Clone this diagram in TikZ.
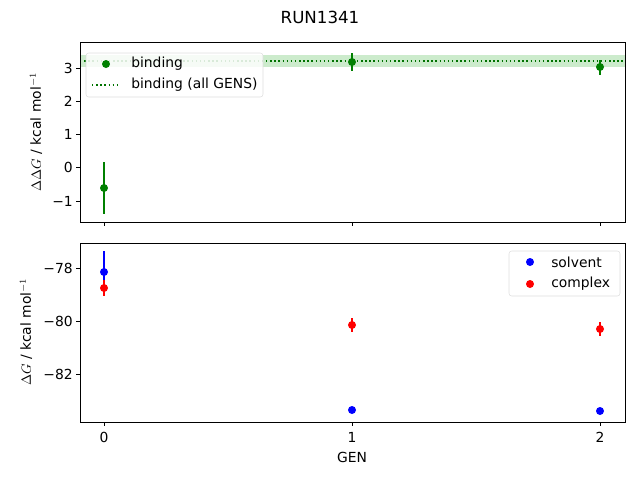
\documentclass[tikz,border=0pt]{standalone}
\usepackage{fontspec}
\setmainfont{DejaVu Sans}
\begin{document}
\begin{tikzpicture}[x=0.75pt,y=-0.75pt,
  lbl/.style={font=\fontsize{10.4}{12}\selectfont,inner sep=0pt},
  pt/.style={circle,inner sep=0pt,minimum size=6pt},
  eb/.style={line width=1.1pt},
  tk/.style={line width=0.6pt}]
\useasboundingbox (0,0) rectangle (640,480);
\node[font=\fontsize{12.5}{14}\selectfont] (title) at (320,17) {RUN1341};
% top axes
\fill[green!60!black,opacity=0.2] (80,55) rectangle (625,67);
\draw[green!45!black,dotted,line width=1.1pt] (80,61) -- (625,61);
\draw[eb,green!50!black] (104,162) -- (104,214);
\draw[eb,green!50!black] (352,53) -- (352,71);
\draw[eb,green!50!black] (600,60) -- (600,75);
\node[pt,fill=green!50!black] (b0) at (104,188) {};
\node[pt,fill=green!50!black] (b1) at (352,62) {};
\node[pt,fill=green!50!black] (b2) at (600,67) {};
\draw[line width=0.6pt] (80,42) rectangle (625,222);
\foreach \v/\y in {3/68,2/101,1/134,0/167,-1/201}{
  \draw[tk] (80,\y) -- (76,\y);
  \node[lbl,anchor=east] at (73,\y) {\ifnum\v<0 −1\else\v\fi};}
\foreach \x in {104,352,600}{\draw[tk] (\x,222) -- (\x,226);}
\node[lbl,rotate=90] (yl1) at (36,132) {$\Delta\Delta G$ / kcal mol$^{-1}$};
% legend top
\draw[gray!30,fill=white,opacity=0.85,rounded corners=2pt] (86,53) rectangle (263,97);
\node[pt,fill=green!50!black] (lb) at (106,64) {};
\node[lbl,anchor=west] at (131,64) {binding};
\draw[green!45!black,dotted,line width=1.1pt] (92,85) -- (120,85);
\node[lbl,anchor=west] at (131,85) {binding (all GENS)};
% bottom axes
\draw[eb,blue] (104,251) -- (104,292);
\draw[eb,red] (104,280) -- (104,296);
\draw[eb,red] (352,318) -- (352,332);
\draw[eb,red] (600,322) -- (600,336);
\node[pt,fill=blue] (s0) at (104,272) {};
\node[pt,fill=blue] (s1) at (352,410) {};
\node[pt,fill=blue] (s2) at (600,411) {};
\node[pt,fill=red] (c0) at (104,288) {};
\node[pt,fill=red] (c1) at (352,325) {};
\node[pt,fill=red] (c2) at (600,329) {};
\draw[line width=0.6pt] (80,243) rectangle (625,422);
\foreach \v/\y in {78/268,80/321,82/374}{
  \draw[tk] (80,\y) -- (76,\y);
  \node[lbl,anchor=east] at (73,\y) {−\v};}
\foreach \x/\g in {104/0,352/1,600/2}{
  \draw[tk] (\x,422) -- (\x,426);
  \node[lbl,anchor=north] at (\x,432) {\g};}
\node[lbl] (xl) at (352,457) {GEN};
\node[lbl,rotate=90] (yl2) at (26,332) {$\Delta G$ / kcal mol$^{-1}$};
% legend bottom
\draw[gray!30,fill=white,opacity=0.85,rounded corners=2pt] (509,251) rectangle (620,296);
\node[pt,fill=blue] (ls) at (530,262) {};
\node[lbl,anchor=west] at (551,262) {solvent};
\node[pt,fill=red] (lc) at (530,284) {};
\node[lbl,anchor=west] at (551,284) {complex};
\end{tikzpicture}
\end{document}
